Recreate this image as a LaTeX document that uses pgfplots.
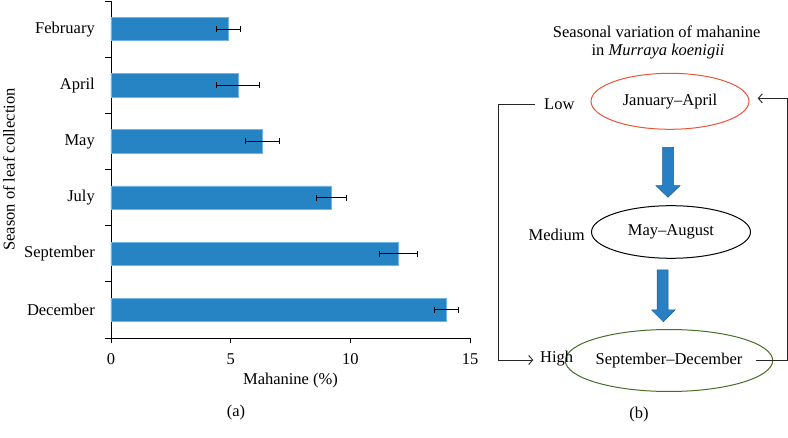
\documentclass[border=0pt]{standalone}
\usepackage{pgfplots}
\pgfplotsset{compat=1.18}
\usepackage{fontspec}
\setmainfont{Liberation Serif}
\usetikzlibrary{shapes.geometric,arrows.meta}
\definecolor{barblue}{RGB}{38,132,196}
\definecolor{baredge}{RGB}{110,180,230}
\definecolor{arrblue}{RGB}{40,128,196}
\definecolor{arredge}{RGB}{30,90,150}
\definecolor{ellred}{RGB}{232,85,58}
\definecolor{ellgreen}{RGB}{70,110,40}
\begin{document}
\fontsize{16.5}{19.5}\selectfont
\begin{tikzpicture}[x=1pt,y=1pt]
\path[use as bounding box] (0,0) rectangle (788,437);
\begin{axis}[
  at={(111pt,99pt)}, anchor=south west,
  scale only axis, width=359pt, height=337pt,
  xmin=0, xmax=15, ymin=-0.5, ymax=5.5,
  axis x line*=bottom, axis y line*=left,
  axis line style={black, line width=0.8pt},
  /pgf/number format/assume math mode=true,
  tick align=outside,
  major tick length=5pt,
  minor tick length=6pt,
  xtick={0,5,10,15},
  ytick={0,1,2,3,4,5},
  yticklabels={December,September,July,May,April,February},
  minor ytick={-0.5,0.5,1.5,2.5,3.5,4.5,5.5},
  every major y tick/.append style={draw=none},
  every minor y tick/.append style={draw=black, line width=0.8pt},
  every major x tick/.append style={draw=black, line width=0.8pt},
  yticklabel style={inner sep=0pt, xshift=-11pt},
  xticklabel style={inner sep=0pt, yshift=-10pt},
  xlabel={Mahanine (\%)},
  ylabel={Season of leaf collection},
  xlabel style={at={(axis description cs:0.5,-0.1276)}, anchor=center},
  ylabel style={at={(axis description cs:-0.2841,0.5)}, anchor=center},
  clip=false,
]
\addplot[xbar, bar width=23.3pt, fill=barblue, draw=baredge, line width=0.8pt,
  error bars/.cd, x dir=both, x explicit,
  error mark=|,
  error bar style={black, line width=1pt},
  error mark options={black, line width=1pt, mark size=3pt, rotate=0}]
  coordinates {
    (14.03,0) +- (0.51,0)
    (12.02,1) +- (0.80,0)
    (9.22,2) +- (0.64,0)
    (6.32,3) +- (0.70,0)
    (5.31,4) +- (0.90,0)
    (4.92,5) +- (0.50,0)
  };
\end{axis}
\node at (236,24) {(a)};
% right panel
\node at (656.7,405.3) {Seasonal variation of mahanine};
\node at (658,385.3) {in \textit{Murraya koenigii}};
\node[ellipse, draw=ellred, line width=1pt, minimum width=158pt, minimum height=56pt, inner sep=0pt] at (670,335.7) {January--April};
\node[ellipse, draw=black, line width=1pt, minimum width=159pt, minimum height=52.6pt, inner sep=0pt] at (671,205) {May--August};
\node[ellipse, draw=ellgreen, line width=1pt, minimum width=165pt, minimum height=62pt, inner sep=0pt] at (669,76.5) {September--December};
\node at (559.3,333) {Low};
\node at (556.7,202) {Medium};
\node at (556.7,78.7) {High};
\draw[line width=0.9pt, black!85, -{Straight Barb[length=4pt,width=9pt]}] (535,332.3) -- (498.3,332.3) -- (498.3,77) -- (533.3,77);
\draw[line width=0.9pt, black!85, -{Straight Barb[length=4pt,width=9pt]}] (755.7,77) -- (787.2,77) -- (787.2,338.7) -- (757.7,338.7);
\draw[fill=arrblue, draw=arredge, line width=0.5pt]
  (662.5,289.7) -- (673.5,289.7) -- (673.5,251.3) -- (680,251.3) -- (668,239.7) -- (656,251.3) -- (662.5,251.3) -- cycle;
\draw[fill=arrblue, draw=arredge, line width=0.5pt]
  (657,167) -- (668,167) -- (668,127) -- (675,127) -- (663.3,115.3) -- (651.6,127) -- (657,127) -- cycle;
\node at (639,22) {(b)};
\end{tikzpicture}
\end{document}
